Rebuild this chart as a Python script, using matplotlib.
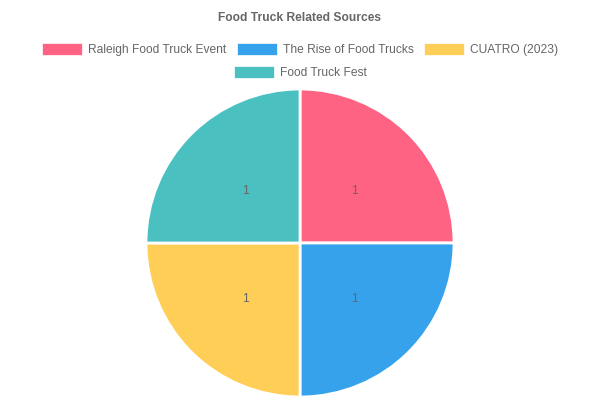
import matplotlib
matplotlib.use('Agg')
import matplotlib.pyplot as plt
from matplotlib.patches import Rectangle
from matplotlib.transforms import Affine2D, ScaledTranslation

plt.rcParams['font.family'] = ['Liberation Sans', 'DejaVu Sans']

TITLE = 'Food Truck Related Sources'
sources = [
    'Raleigh Food Truck Event',
    'The Rise of Food Trucks',
    'CUATRO (2023)',
    'Food Truck Fest'
]
counts = [1, 1, 1, 1]
colors = ['#FF6384', '#36A2EB', '#FFCE56', '#4BC0C0']
TEXT_COLOR = '#666666'
FONT_PT = 12 * 72 / 100

W, H = 600, 400
fig = plt.figure(figsize=(6, 4), dpi=100)

# pie: centre (300, 243) from top, radius 154 px
cx, cy, r = 300, 243, 154
ax = fig.add_axes([(cx - r) / W, (H - cy - r) / H, 2 * r / W, 2 * r / H])
wedges, texts = ax.pie(
    counts,
    colors=colors,
    labels=[str(c) for c in counts],
    labeldistance=0.5,
    startangle=90,
    counterclock=False,
    wedgeprops=dict(edgecolor='white', linewidth=2),
    textprops=dict(color=TEXT_COLOR, fontsize=FONT_PT, ha='center', va='center'),
)
ax.set_xlim(-1.0, 1.0)
ax.set_ylim(-1.0, 1.0)
ax.set_aspect('equal')
ax.axis('off')
for p in wedges:
    p.set_clip_on(False)
shift = ScaledTranslation(0, -2 / 100, fig.dpi_scale_trans)
for t in texts:
    t.set_transform(t.get_transform() + shift)

# pixel transform with y measured from the top
px = Affine2D().scale(1, -1).translate(0, H)

fig.text(W / 2, 18, TITLE, transform=px, ha='center', va='center',
         fontsize=FONT_PT, fontweight='bold', color=TEXT_COLOR)

# legend, laid out like Chart.js
renderer = fig.canvas.get_renderer()
box_w, box_h, gap, pad = 40, 12, 6, 10


def text_width(s):
    t = fig.text(0, 0, s, fontsize=FONT_PT)
    w = t.get_window_extent(renderer).width
    t.remove()
    return w


items = [(s, c, box_w + gap + text_width(s)) for s, c in zip(sources, colors)]
rows, row, row_w = [], [], 0
for it in items:
    extra = it[2] + (pad if row else 0)
    if row and row_w + extra > W - 20:
        rows.append(row)
        row, row_w = [], 0
        extra = it[2]
    row.append(it)
    row_w += extra
rows.append(row)

row_y = [50, 73]
for ry, row in zip(row_y, rows):
    total = sum(it[2] for it in row) + pad * (len(row) - 1)
    x = (W - total) / 2
    for label, col, w in row:
        fig.patches.append(Rectangle((x, ry - box_h / 2 - 1), box_w, box_h,
                                     transform=px, facecolor=col,
                                     edgecolor='white', linewidth=0.5))
        fig.text(x + box_w + gap, ry, label, transform=px, ha='left',
                 va='center', fontsize=FONT_PT, color=TEXT_COLOR)
        x += w + pad

fig.savefig('out.png', dpi=100)
